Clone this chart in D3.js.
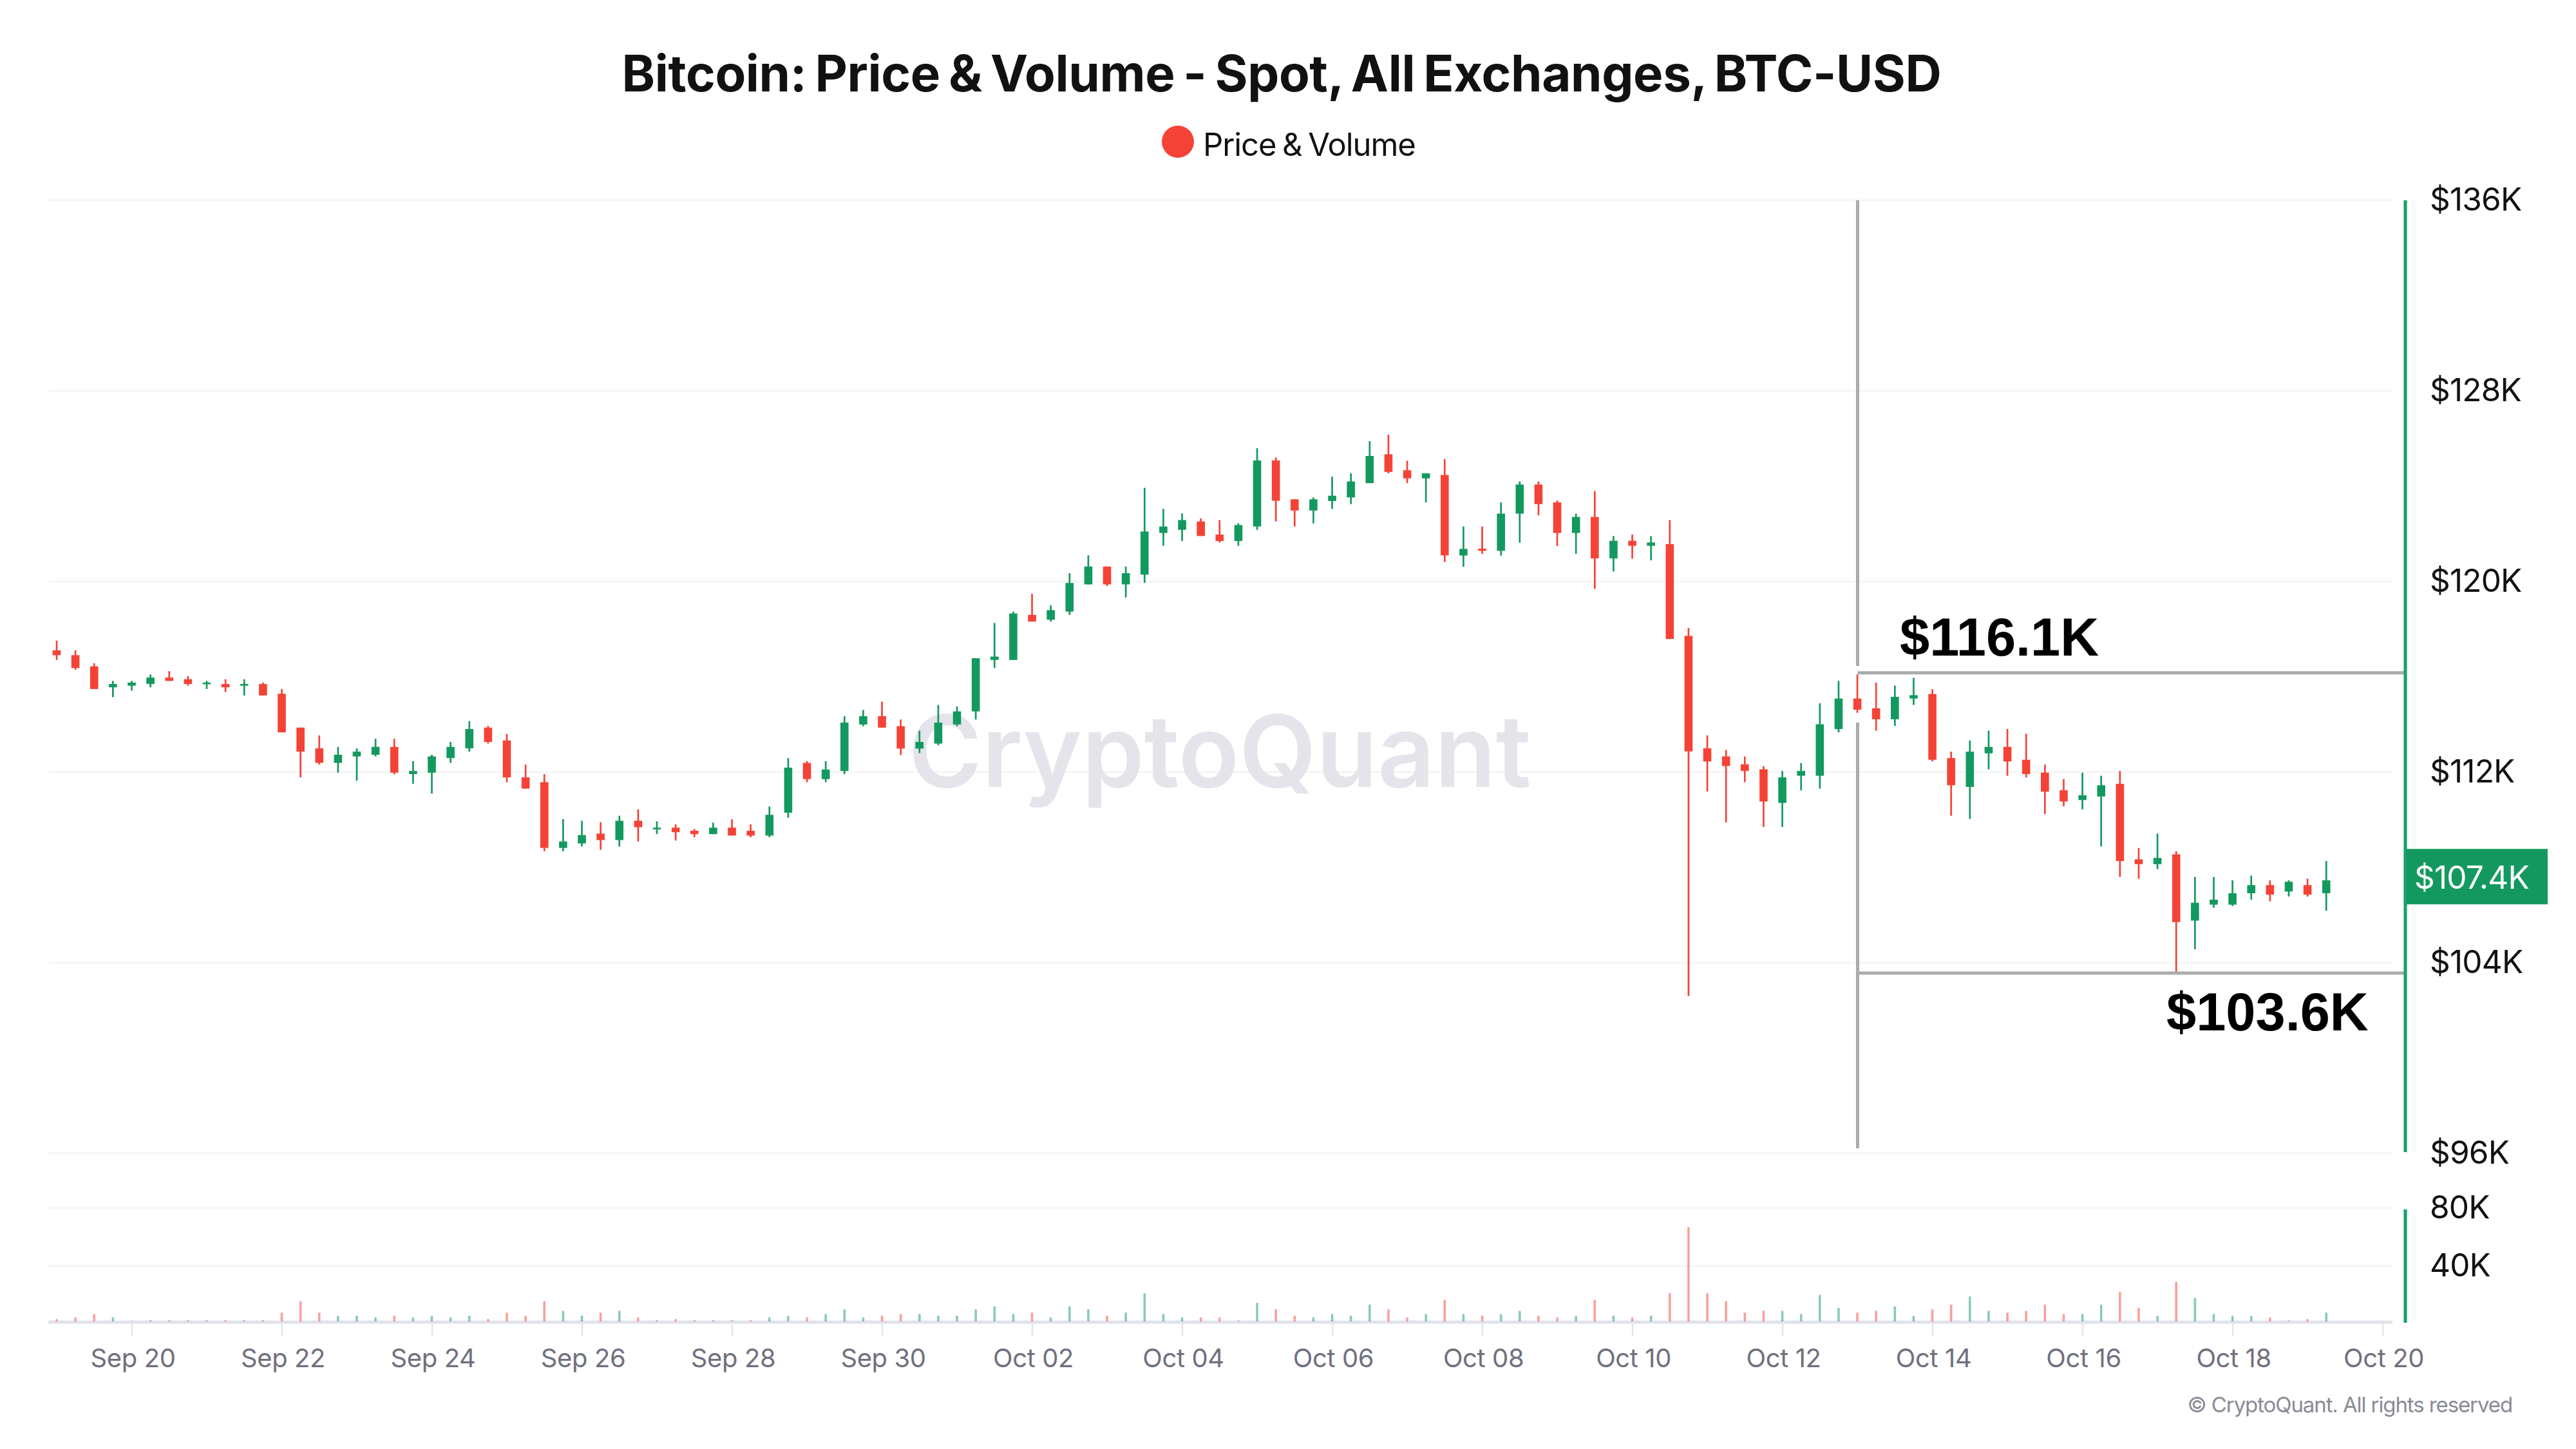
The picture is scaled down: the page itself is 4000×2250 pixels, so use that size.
<!DOCTYPE html>
<html>
<head>
<meta charset="utf-8">
<title>Bitcoin: Price & Volume</title>
<script src="https://cdn.jsdelivr.net/npm/d3@7"></script>
<style>
  html, body { margin: 0; padding: 0; background: #fff; }
  svg { display: block; }
  text { font-family: Inter, "Noto Sans", sans-serif; }
</style>
</head>
<body>
<div id="chart"></div>
<script>
// 6 hour candles, first one opens Sep 19 2025 00:00 UTC. Prices in $K, volume in K
var opens = [
  117.11,116.91,116.44,115.56,115.63,115.70,115.97,115.90,115.69,115.70,
  115.63,115.70,115.29,113.87,113.00,112.39,112.66,112.73,113.06,111.92,
  111.98,112.59,113.00,113.87,113.33,111.78,111.58,108.82,109.01,109.42,
  109.15,109.96,109.60,109.67,109.54,109.40,109.67,109.54,109.34,110.30,
  112.39,111.71,112.05,114.00,114.35,113.93,112.99,113.20,114.00,114.55,
  116.71,116.71,118.60,118.40,118.74,119.88,120.63,119.88,120.29,122.04,
  122.17,122.52,121.97,121.70,122.31,125.08,123.45,122.98,123.38,123.53,
  124.13,125.34,124.67,124.33,124.47,121.09,121.38,121.29,122.85,124.07,
  123.32,122.04,122.71,120.97,121.71,121.50,121.57,117.72,113.00,112.66,
  112.33,112.12,110.71,111.85,111.85,113.81,115.09,114.68,114.22,115.09,
  115.28,112.59,111.38,112.79,113.06,112.52,111.98,111.24,110.83,110.98,
  111.51,108.34,108.14,108.55,105.77,106.44,106.44,106.92,107.26,106.99,
  107.26,106.92
];
var highs = [
  117.52,117.11,116.57,115.83,115.83,116.10,116.24,116.03,115.83,115.90,
  115.90,115.76,115.49,113.87,113.54,113.06,113.00,113.40,113.40,112.46,
  112.73,113.27,114.14,113.94,113.60,112.32,111.92,110.03,109.96,109.90,
  110.17,110.44,109.94,109.81,109.61,109.88,110.02,109.81,110.56,112.59,
  112.46,112.46,114.35,114.61,114.96,114.21,113.74,114.82,114.76,116.78,
  118.26,118.74,119.48,119.00,120.35,121.10,120.63,120.63,123.93,123.05,
  122.86,122.65,122.58,122.44,125.60,125.21,123.45,123.53,124.40,124.54,
  125.89,126.16,125.07,124.54,125.14,122.31,122.31,123.32,124.20,124.20,
  123.40,122.85,123.80,121.91,121.97,121.91,122.58,118.05,113.54,112.93,
  112.66,112.25,112.05,112.38,114.89,115.83,116.10,115.76,115.63,115.96,
  115.48,112.86,113.33,113.74,113.81,113.61,112.32,111.71,111.98,111.85,
  112.05,108.82,109.42,108.68,107.60,107.60,107.46,107.66,107.46,107.46,
  107.53,108.27
];
var lows = [
  116.71,116.30,115.49,115.15,115.42,115.56,115.83,115.63,115.49,115.36,
  115.22,115.22,113.67,111.78,112.32,111.98,111.64,112.66,111.91,111.51,
  111.10,112.39,112.86,113.20,111.58,111.31,108.68,108.68,108.88,108.74,
  108.88,109.09,109.40,109.13,109.27,109.40,109.34,109.27,109.27,110.09,
  111.58,111.58,111.92,113.93,113.87,112.72,112.80,113.13,113.93,114.21,
  116.37,116.71,118.32,118.32,118.60,119.88,119.81,119.33,119.95,121.50,
  121.70,121.91,121.64,121.50,122.17,122.52,122.31,122.44,123.05,123.25,
  124.13,124.54,124.13,123.32,120.82,120.62,121.16,121.09,121.63,122.78,
  121.49,121.16,119.69,120.42,120.96,120.89,117.59,102.60,111.19,109.89,
  111.58,109.70,109.70,111.24,111.31,113.67,114.49,113.74,113.94,114.82,
  112.45,110.17,110.04,112.12,111.85,111.78,110.24,110.57,110.44,108.88,
  107.60,107.53,107.93,103.62,104.57,106.31,106.38,106.65,106.58,106.78,
  106.78,106.18
];
var closes = [
  116.91,116.37,115.49,115.70,115.76,115.97,115.83,115.70,115.76,115.56,
  115.70,115.22,113.67,112.86,112.39,112.73,112.86,113.06,111.98,112.05,
  112.66,113.06,113.81,113.27,111.78,111.31,108.82,109.09,109.36,109.15,
  109.96,109.69,109.67,109.48,109.40,109.67,109.34,109.34,110.21,112.19,
  111.71,112.11,114.08,114.35,113.87,112.99,113.27,114.08,114.55,116.78,
  116.85,118.66,118.32,118.80,119.94,120.63,119.88,120.35,122.10,122.31,
  122.58,121.91,121.70,122.37,125.08,123.39,122.98,123.45,123.60,124.20,
  125.27,124.60,124.33,124.54,121.10,121.37,121.29,122.85,124.07,123.25,
  122.04,122.71,120.97,121.71,121.50,121.64,117.59,112.87,112.45,112.26,
  112.05,110.77,111.78,112.05,114.01,115.09,114.62,114.22,115.16,115.23,
  112.52,111.45,112.86,113.06,112.45,111.92,111.18,110.77,111.03,111.45,
  108.27,108.14,108.40,105.71,106.52,106.65,106.92,107.26,106.86,107.40,
  106.86,107.46
];
var volumes = [
  3.6,4.7,7.0,4.7,2.1,2.7,2.7,2.7,2.7,2.7,
  2.7,2.7,8.0,15.9,8.0,5.8,5.9,4.7,5.9,4.7,
  5.8,4.7,5.9,3.6,8.0,5.8,15.9,9.2,5.9,8.0,
  9.2,4.7,2.7,3.6,2.7,2.7,2.7,2.7,4.7,5.8,
  4.7,7.0,10.2,4.7,5.9,7.0,7.0,5.9,5.9,10.2,
  12.4,7.0,8.0,4.7,12.4,10.2,5.9,8.0,21.3,7.0,
  4.7,4.7,4.7,2.5,14.7,10.2,5.9,4.7,7.0,5.9,
  13.6,10.2,4.7,7.0,16.9,7.0,5.9,7.0,9.2,5.9,
  4.7,5.9,16.9,5.9,4.7,5.9,21.3,67.0,21.3,15.9,
  8.0,9.2,9.2,7.0,20.3,11.4,8.0,9.2,12.4,5.8,
  10.2,13.6,19.1,9.2,8.0,9.2,13.6,7.0,7.0,13.6,
  22.5,11.4,5.8,29.2,18.1,7.0,5.8,5.8,4.7,2.5,
  3.6,8.0
];
var priceTicks = [96, 104, 112, 120, 128, 136];
var volumeTicks = [40, 80];
var lastPrice = 107.4;
// where the two range lines sit, and what their labels say
var rangeLevels = [116.17, 103.57];
var rangeLabels = ["$116.1K", "$103.6K"];

var startTime = Date.UTC(2025, 8, 19);
var sixHours = 6 * 3600 * 1000;
var times = opens.map((d, i) => new Date(startTime + i * sixHours));
var dateTicks = d3.utcDay.range(new Date(Date.UTC(2025, 8, 20)), new Date(Date.UTC(2025, 9, 21)), 2);

var GREEN = "#13995f";
var RED = "#f44336";
var AXIS_GREEN = "#1ba26a";
var GRID = "#f5f5f5";
var GREY_LINE = "#ababab";

var svg = d3.select("#chart").append("svg").attr("width", 4000).attr("height", 2250);

var x = d3.scaleUtc()
  .domain([new Date(Date.UTC(2025, 8, 19)), new Date(Date.UTC(2025, 9, 20))])
  .range([88, 3699.6]);
var y = d3.scaleLinear().domain([96, 136]).range([1791, 311]);
var yVol = d3.scaleLinear().domain([1.8, 80]).range([2052, 1876]);

// Gridlines
svg.selectAll(".grid-price").data(priceTicks).join("line")
  .attr("x1", 75).attr("x2", 3715)
  .attr("y1", d => y(d)).attr("y2", d => y(d))
  .attr("stroke", GRID).attr("stroke-width", 3);
svg.selectAll(".grid-vol").data(volumeTicks).join("line")
  .attr("x1", 75).attr("x2", 3715)
  .attr("y1", d => yVol(d)).attr("y2", d => yVol(d))
  .attr("stroke", GRID).attr("stroke-width", 3);

// Title and legend
svg.append("text").attr("x", 1990).attr("y", 142).attr("text-anchor", "middle")
  .attr("font-size", 78).attr("font-weight", 700).attr("fill", "#111")
  .attr("letter-spacing", -0.4).attr("word-spacing", -5)
  .text("Bitcoin: Price & Volume - Spot, All Exchanges, BTC-USD");
svg.append("circle").attr("cx", 1829).attr("cy", 220).attr("r", 25).attr("fill", RED);
svg.append("text").attr("x", 1868).attr("y", 242)
  .attr("font-size", 49).attr("fill", "#111")
  .attr("letter-spacing", -1.1).attr("word-spacing", -3)
  .text("Price & Volume");

// Watermark
svg.append("text").attr("x", 1894).attr("y", 1222).attr("text-anchor", "middle")
  .attr("font-size", 155).attr("font-weight", 600).attr("fill", "#e4e4ea")
  .text("CryptoQuant");

// Volume bars
svg.append("line").attr("x1", 75).attr("x2", 3715).attr("y1", 2053).attr("y2", 2053)
  .attr("stroke", "#e2e2ea").attr("stroke-width", 5);
svg.selectAll(".vol").data(volumes).join("rect")
  .attr("x", (d, i) => x(times[i]) - 1.8)
  .attr("width", 3.6)
  .attr("y", d => yVol(d))
  .attr("height", d => yVol(1.8) - yVol(d))
  .attr("rx", 1.5)
  .attr("fill", (d, i) => closes[i] >= opens[i] ? GREEN : RED)
  .attr("fill-opacity", 0.5);

// Candles
svg.selectAll(".wick").data(times).join("line")
  .attr("x1", d => x(d)).attr("x2", d => x(d))
  .attr("y1", (d, i) => y(highs[i])).attr("y2", (d, i) => y(lows[i]))
  .attr("stroke", (d, i) => closes[i] >= opens[i] ? GREEN : RED)
  .attr("stroke-width", 2.7);
svg.selectAll(".body").data(times).join("rect")
  .attr("x", d => x(d) - 6.3)
  .attr("width", 12.6)
  .attr("y", (d, i) => y(Math.max(opens[i], closes[i])))
  .attr("height", (d, i) => Math.abs(y(opens[i]) - y(closes[i])))
  .attr("fill", (d, i) => closes[i] >= opens[i] ? GREEN : RED);

// Range annotation lines
var annX = 2884.5;
svg.append("line").attr("x1", annX).attr("x2", annX).attr("y1", 311).attr("y2", 1034)
  .attr("stroke", GREY_LINE).attr("stroke-width", 5);
svg.append("line").attr("x1", annX).attr("x2", annX).attr("y1", 1122).attr("y2", 1783)
  .attr("stroke", GREY_LINE).attr("stroke-width", 5);
svg.selectAll(".range-line").data(rangeLevels).join("line")
  .attr("x1", annX).attr("x2", 3735)
  .attr("y1", d => y(d)).attr("y2", d => y(d))
  .attr("stroke", GREY_LINE).attr("stroke-width", 5);
svg.append("text").attr("x", 2950).attr("y", 1018)
  .style("font-family", "'Liberation Sans', sans-serif")
  .attr("font-size", 83).attr("font-weight", 700).attr("fill", "#000")
  .text(rangeLabels[0]);
svg.append("text").attr("x", 3364).attr("y", 1600)
  .style("font-family", "'Liberation Sans', sans-serif")
  .attr("font-size", 83).attr("font-weight", 700).attr("fill", "#000")
  .text(rangeLabels[1]);

// Right axes
svg.append("line").attr("x1", 3735).attr("x2", 3735).attr("y1", y(136)).attr("y2", y(96) - 2)
  .attr("stroke", AXIS_GREEN).attr("stroke-width", 5.2);
svg.append("line").attr("x1", 3735).attr("x2", 3735).attr("y1", yVol(80) + 2).attr("y2", yVol(1.8) + 2)
  .attr("stroke", AXIS_GREEN).attr("stroke-width", 5.2);

var priceAxis = svg.append("g").attr("transform", "translate(3773,0)")
  .call(d3.axisRight(y).tickValues(priceTicks).tickSize(0).tickPadding(0).tickFormat(d => "$" + d + "K"));
var volAxis = svg.append("g").attr("transform", "translate(3773,0)")
  .call(d3.axisRight(yVol).tickValues(volumeTicks).tickSize(0).tickPadding(0).tickFormat(d => d + "K"));
[priceAxis, volAxis].forEach(g => {
  g.select(".domain").remove();
  g.selectAll("text")
    .attr("x", 0).attr("dy", 15)
    .style("font-family", "Inter, sans-serif")
    .attr("letter-spacing", -0.8)
    .attr("font-size", 49.5).attr("fill", "#111");
});

// Last price tag
svg.append("rect").attr("x", 3737).attr("y", y(lastPrice) - 51).attr("width", 219).attr("height", 86)
  .attr("fill", GREEN);
svg.append("text").attr("x", 3749).attr("y", 1380)
  .attr("font-size", 49.5).attr("fill", "#fff").attr("letter-spacing", -0.8)
  .text("$" + lastPrice + "K");

// Date axis
var dateAxis = svg.append("g").attr("transform", "translate(0,2053)")
  .call(d3.axisBottom(x).tickValues(dateTicks).tickSize(22).tickPadding(20).tickFormat(d3.utcFormat("%b %d")));
dateAxis.select(".domain").remove();
dateAxis.selectAll("line").attr("stroke", "#e6e6e6").attr("stroke-width", 2.5);
dateAxis.selectAll("text")
  .style("font-family", "Inter, sans-serif")
  .attr("font-size", 40).attr("fill", "#70707e").attr("dx", 1.5)
  .attr("letter-spacing", -0.4);

// Copyright
svg.append("text").attr("x", 3901).attr("y", 2193).attr("text-anchor", "end")
  .attr("font-size", 33).attr("fill", "#8a8a96").attr("letter-spacing", -1.1)
  .text("© CryptoQuant. All rights reserved");
</script>
</body>
</html>
